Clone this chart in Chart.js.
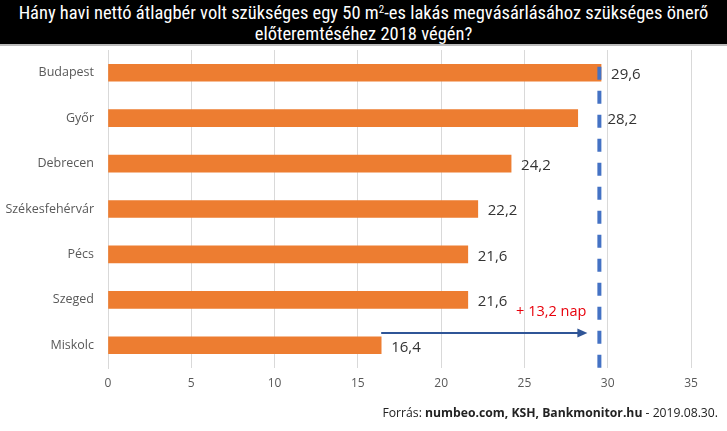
<!DOCTYPE html>
<html><head><meta charset="utf-8">
<script src="https://cdn.jsdelivr.net/npm/chart.js@4/dist/chart.umd.min.js"></script>
<style>
html,body{margin:0;padding:0;background:#fff;}
#wrap{position:relative;width:727px;height:431px;overflow:hidden;}
#title{position:absolute;left:0;top:0;width:727px;height:46px;background:#000;color:#fff;
 font-family:'Liberation Sans Narrow','Roboto',sans-serif;font-stretch:condensed;font-size:18.5px;line-height:21px;text-align:center;padding-top:3px;box-sizing:border-box;border-bottom:2px solid #bbb;z-index:2;}
#title sup{font-size:11px;line-height:0;vertical-align:6px;}
#foot{position:absolute;right:9px;top:404px;font-family:'Open Sans','Noto Sans',sans-serif;font-size:12.2px;color:#222;z-index:2;}
canvas{position:absolute;left:0;top:0;}
</style></head>
<body><div id="wrap">
<div id="title">Hány havi nettó átlagbér volt szükséges egy 50 m<sup>2</sup>-es lakás megvásárlásához szükséges önerő<br>előteremtéséhez 2018 végén?</div>
<div id="foot">Forrás: <b>numbeo.com, KSH, Bankmonitor.hu</b> - 2019.08.30.</div>
<canvas id="c" width="727" height="431"></canvas>
</div>
<script>
const cities = ['Budapest','Győr','Debrecen','Székesfehérvár','Pécs','Szeged','Miskolc'];
const months = [29.6, 28.2, 24.2, 22.2, 21.6, 21.6, 16.4];
const xTicks = [0,5,10,15,20,25,30,35];
const refLine = 29.5;
const diffLabel = '+ 13,2 nap';

const fmt = v => v.toFixed(1).replace('.', ',');

const overlay = {
  id: 'overlay',
  afterDatasetsDraw(chart) {
    const ctx = chart.ctx, xs = chart.scales.x, ys = chart.scales.y;
    const meta = chart.getDatasetMeta(0);
    const xl = xs.getPixelForValue(refLine);
    const step = ys.getPixelForValue(1) - ys.getPixelForValue(0);
    ctx.save();
    // dashed reference line
    ctx.strokeStyle = '#4472c4';
    ctx.lineWidth = 4;
    ctx.setLineDash([13, 11]);
    ctx.beginPath();
    ctx.moveTo(xl, ys.getPixelForValue(0) - step * 0.13);
    ctx.lineTo(xl, chart.chartArea.bottom);
    ctx.stroke();
    ctx.setLineDash([]);
    // value labels
    ctx.font = '15px "Open Sans", "Noto Sans", sans-serif';
    ctx.fillStyle = '#333333';
    ctx.textBaseline = 'middle';
    ctx.textAlign = 'left';
    meta.data.forEach((bar, i) => {
      let lx = bar.x + 10;
      if (lx < xl + 8 && bar.x > xl - 30) lx = xl + 8;
      ctx.fillText(fmt(months[i]), lx, bar.y + 2);
    });
    // arrow
    const last = months.length - 1;
    const ay = ys.getPixelForValue(last) - step * 0.27;
    const ax0 = xs.getPixelForValue(months[last]);
    const ax1 = xs.getPixelForValue(refLine) - 12;
    ctx.strokeStyle = '#2f5597';
    ctx.fillStyle = '#2f5597';
    ctx.lineWidth = 2;
    ctx.beginPath();
    ctx.moveTo(ax0, ay);
    ctx.lineTo(ax1 - 8, ay);
    ctx.stroke();
    ctx.beginPath();
    ctx.moveTo(ax1, ay);
    ctx.lineTo(ax1 - 10, ay - 4.5);
    ctx.lineTo(ax1 - 10, ay + 4.5);
    ctx.closePath();
    ctx.fill();
    // diff label
    ctx.fillStyle = '#e8000b';
    ctx.font = '14.5px "Open Sans", "Noto Sans", sans-serif';
    ctx.textAlign = 'right';
    ctx.fillText(diffLabel, ax1 - 1, ay - 21);
    ctx.restore();
  }
};

new Chart(document.getElementById('c'), {
  type: 'bar',
  data: {
    labels: cities,
    datasets: [{ data: months, backgroundColor: '#ed7d31', barThickness: 17 }]
  },
  options: {
    indexAxis: 'y',
    responsive: false,
    animation: false,
    layout: { padding: { left: 0, right: 36, top: 50, bottom: 33 } },
    plugins: { legend: { display: false }, tooltip: { enabled: false } },
    scales: {
      x: {
        min: 0, max: 35,
        afterBuildTicks: s => { s.ticks = xTicks.map(v => ({ value: v })); },
        afterFit: s => { s.height = 30; },
        grid: { color: '#d9d9d9', drawTicks: false },
        border: { display: false },
        ticks: { padding: 8, color: '#595959', font: { family: '"Open Sans", "Noto Sans", sans-serif', size: 12 } }
      },
      y: {
        afterFit: s => { s.width = 108; },
        grid: { display: false, drawTicks: false },
        border: { color: '#d9d9d9' },
        ticks: { padding: 14, color: '#595959', font: { family: '"Open Sans", "Noto Sans", sans-serif', size: 12.5 } }
      }
    }
  },
  plugins: [overlay]
});
</script>
</body></html>
